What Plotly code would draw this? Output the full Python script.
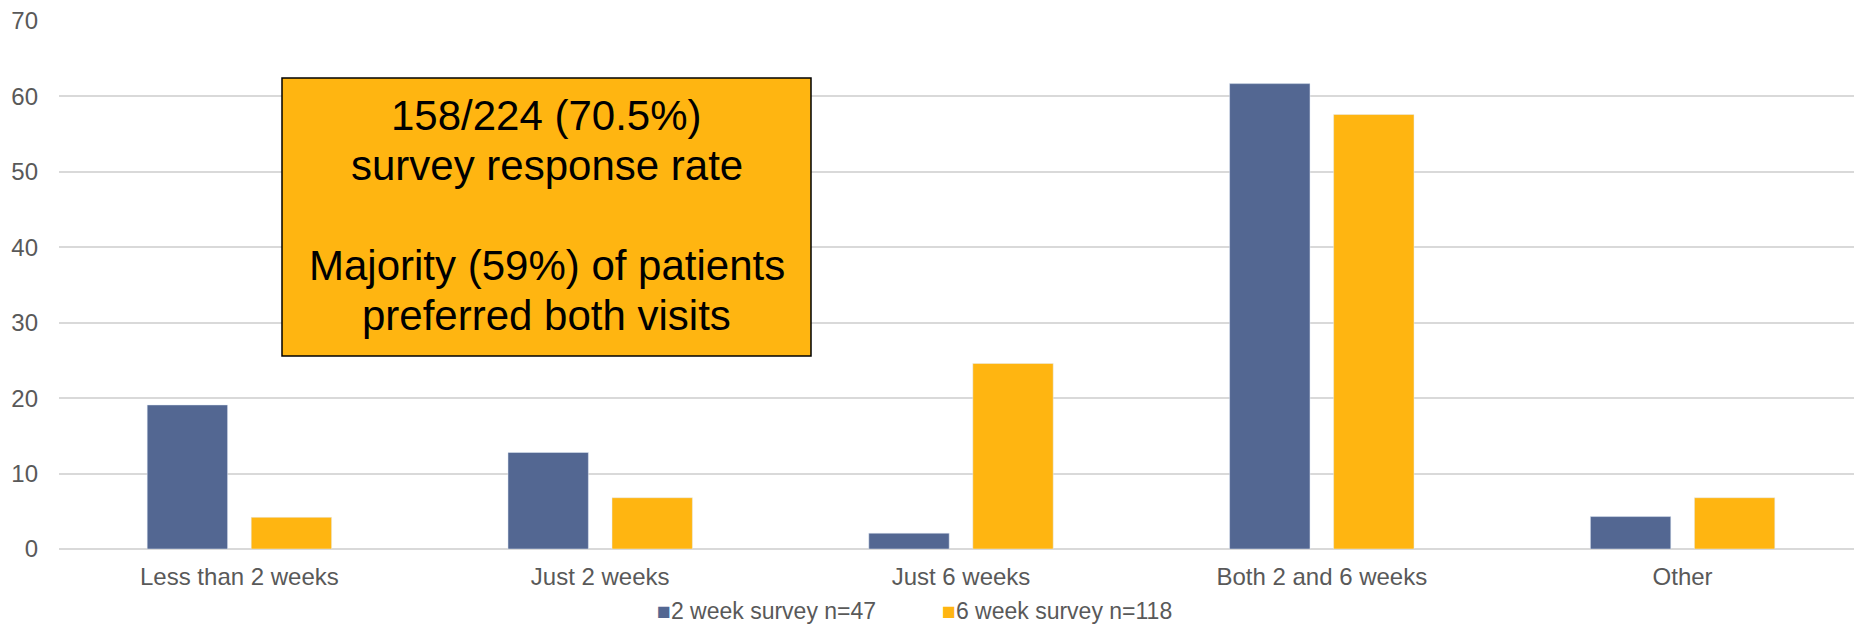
import plotly.graph_objects as go

# Preferred follow-up timing, % of respondents per survey
categories = ["Less than 2 weeks", "Just 2 weeks", "Just 6 weeks", "Both 2 and 6 weeks", "Other"]
week2_pct = [19.1, 12.8, 2.1, 61.7, 4.3]
week6_pct = [4.2, 6.8, 24.6, 57.6, 6.8]
series_names = ["2 week survey n=47", "6 week survey n=118"]
y_ticks = [0, 10, 20, 30, 40, 50, 60, 70]
callout_lines = ["158/224 (70.5%)", "survey response rate", "",
                 "Majority (59%) of patients", "preferred both visits"]

BLUE = "#536792"
ORANGE = "#FFB511"
TXT = "#595959"
FONT = "Liberation Sans, Arial, sans-serif"

W, H = 1854, 624
L, R, T, B = 59, 0, 21, 75
plot_w = W - L - R
plot_h = H - T - B
cat_px = 360.8  # pixel width of one category slot


def px_x(p):
    return (p - L) / plot_w


def px_y(p):
    return (H - B - p) / plot_h


fig = go.Figure()
fig.add_trace(go.Bar(x=categories, y=week2_pct, name=series_names[0], marker_color=BLUE,
                     showlegend=False))
fig.add_trace(go.Bar(x=categories, y=week6_pct, name=series_names[1], marker_color=ORANGE,
                     showlegend=False))

# Summary call-out box
box = dict(x0=282, x1=811, y0=78, y1=356)
fig.add_shape(type="rect", xref="paper", yref="paper",
              x0=px_x(box["x0"]), x1=px_x(box["x1"]),
              y0=px_y(box["y1"]), y1=px_y(box["y0"]),
              fillcolor=ORANGE, line=dict(color="#000000", width=1.5), layer="above")
box_cx = (box["x0"] + box["x1"]) / 2
first_baseline, line_step, box_font = 130.7, 50.0, 42
for i, line in enumerate(callout_lines):
    if not line:
        continue
    base = first_baseline + i * line_step
    fig.add_annotation(xref="paper", yref="paper", x=px_x(box_cx), y=px_y(base - 0.36 * box_font),
                       xanchor="center", yanchor="middle", showarrow=False, text=line,
                       font=dict(family=FONT, size=box_font, color="#000000"))

# Legend row: coloured square glyph right beside each series name
legend_y = px_y(611)
for name, color, x_left in [(series_names[0], BLUE, 655), (series_names[1], ORANGE, 940)]:
    fig.add_annotation(xref="paper", yref="paper", x=px_x(x_left), y=legend_y,
                       xanchor="left", yanchor="middle", showarrow=False,
                       text=f"<span style='color:{color}'>■</span>{name}",
                       font=dict(family=FONT, size=23, color=TXT))

fig.update_layout(
    width=W, height=H,
    margin=dict(l=L, r=R, t=T, b=B, pad=0),
    paper_bgcolor="white", plot_bgcolor="white",
    barmode="group", bargap=0.4234, bargroupgap=0.227,
    font=dict(family=FONT, size=24, color=TXT),
    showlegend=False,
    xaxis=dict(range=[-0.5, -0.5 + plot_w / cat_px], showgrid=False, showline=False,
               zeroline=False, ticks="", tickfont=dict(size=24, color=TXT),
               ticklabelstandoff=11, fixedrange=True),
    yaxis=dict(range=[0, 70], tickvals=y_ticks, showgrid=True, gridcolor="#D9D9D9",
               gridwidth=1.5, zeroline=True, zerolinecolor="#D9D9D9", zerolinewidth=1.5,
               showline=False, ticks="", tickfont=dict(size=24, color=TXT),
               ticklabelstandoff=20, fixedrange=True),
)

fig.write_html("out.html", config={"displayModeBar": False})
